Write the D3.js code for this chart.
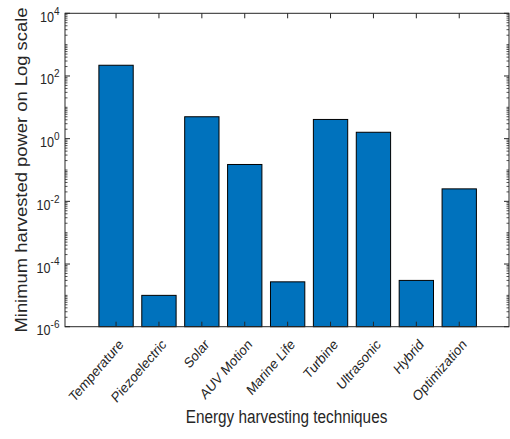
<!DOCTYPE html>
<html>
<head>
<meta charset="utf-8">
<script src="https://cdn.jsdelivr.net/npm/d3@7"></script>
<style>
  html, body { margin: 0; padding: 0; background: #fff; }
  svg { display: block; }
  text { font-family: "Liberation Sans", Arial, sans-serif; fill: #262626; }
</style>
</head>
<body>
<div id="chart"></div>
<script>
const categories = ["Temperature", "Piezoelectric", "Solar", "AUV Motion", "Marine Life", "Turbine", "Ultrasonic", "Hybrid", "Optimization"];
const values = [220, 1e-5, 5.0, 0.15, 2.7e-5, 4.1, 1.6, 3.0e-5, 0.025];
const yTickExponents = [-6, -4, -2, 0, 2, 4];
const xLabel = "Energy harvesting techniques";
const yLabel = "Minimum harvested power on Log scale";

const W = 510, H = 439;
const mLeft = 65, mRight = 509, mTop = 13.3, mBottom = 326.7;
const axisColor = "#262626";
const sq = 0.87; // horizontal text compression seen in the reference

const svg = d3.select("#chart").append("svg").attr("width", W).attr("height", H);

const x = d3.scaleLinear().domain([-0.19, 10.16]).range([mLeft, mRight]);
const y = d3.scaleLog().domain([1e-6, 1e4]).range([mBottom, mTop]);
const bw = 0.8 * (x(1) - x(0));

// bars
svg.append("g").selectAll("rect").data(values).join("rect")
  .attr("x", (d, i) => x(i + 1) - bw / 2)
  .attr("width", bw)
  .attr("y", d => y(d))
  .attr("height", d => mBottom - y(d))
  .attr("fill", "#0072BD")
  .attr("stroke", "#000")
  .attr("stroke-width", 1);

// axes box
const ax = svg.append("g").attr("stroke", axisColor).attr("fill", "none");
ax.append("rect").attr("x", mLeft).attr("y", mTop).attr("width", mRight - mLeft).attr("height", mBottom - mTop).attr("stroke-width", 1);

// x ticks (bottom and top, inward)
categories.forEach((c, i) => {
  const xx = x(i + 1);
  ax.append("line").attr("x1", xx).attr("x2", xx).attr("y1", mBottom).attr("y2", mBottom - 5);
  ax.append("line").attr("x1", xx).attr("x2", xx).attr("y1", mTop).attr("y2", mTop + 5);
});

// y ticks: major at labeled decades, minor elsewhere
const minor = [];
for (let e = -6; e < 4; e++) {
  for (let m = 1; m <= 9; m++) {
    const v = m * Math.pow(10, e);
    if (m === 1 && yTickExponents.includes(e)) continue;
    minor.push(v);
  }
}
yTickExponents.forEach(e => {
  const yy = y(Math.pow(10, e));
  ax.append("line").attr("x1", mLeft).attr("x2", mLeft + 5).attr("y1", yy).attr("y2", yy);
  ax.append("line").attr("x1", mRight).attr("x2", mRight - 5).attr("y1", yy).attr("y2", yy);
});
minor.forEach(v => {
  const yy = y(v);
  ax.append("line").attr("x1", mLeft).attr("x2", mLeft + 2.5).attr("y1", yy).attr("y2", yy).attr("stroke-width", 0.8);
  ax.append("line").attr("x1", mRight).attr("x2", mRight - 2.5).attr("y1", yy).attr("y2", yy).attr("stroke-width", 0.8);
});

// y tick labels
yTickExponents.forEach(e => {
  const t = svg.append("text")
    .attr("transform", `translate(${mLeft - 5.5},${y(Math.pow(10, e)) + 8.5}) scale(${sq},1)`)
    .attr("text-anchor", "end")
    .attr("font-size", 14.5);
  t.append("tspan").text("10");
  t.append("tspan").attr("dy", -7.3).attr("font-size", 11.5).text(String(e));
});

// x tick labels
categories.forEach((c, i) => {
  svg.append("text")
    .attr("transform", `translate(${x(i + 1) + 5},${mBottom + 15}) scale(${sq},1) rotate(-45)`)
    .attr("text-anchor", "end")
    .attr("dy", "0.35em")
    .attr("font-size", 14.5)
    .text(c);
});

// axis titles
svg.append("text")
  .attr("transform", `translate(${(mLeft + mRight) / 2 - 0.5},423) scale(${sq},1)`)
  .attr("text-anchor", "middle")
  .attr("font-size", 17.6)
  .text(xLabel);

svg.append("text")
  .attr("transform", `translate(26.7,${(mTop + mBottom) / 2}) scale(${sq},1) rotate(-90)`)
  .attr("text-anchor", "middle")
  .attr("font-size", 18.4)
  .text(yLabel);
</script>
</body>
</html>
